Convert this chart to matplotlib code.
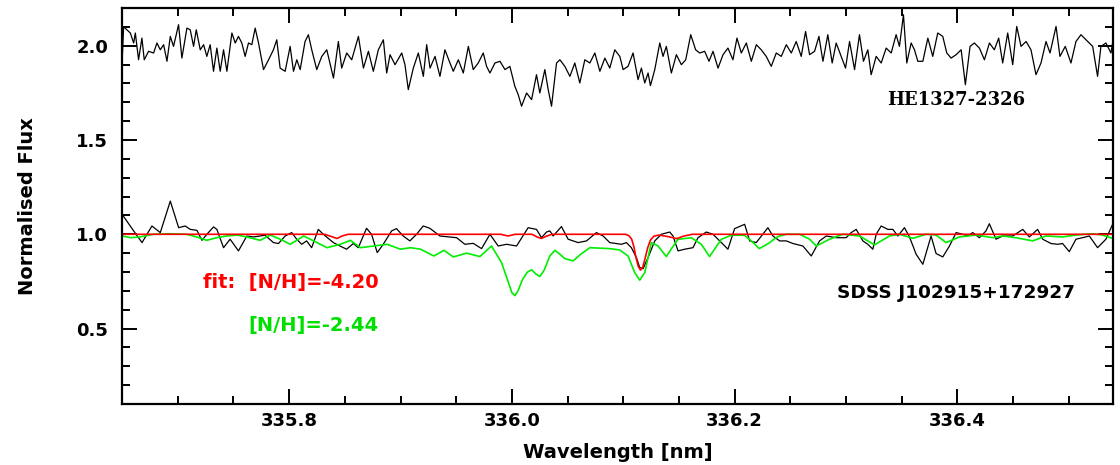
import numpy as np
import matplotlib.pyplot as plt
from matplotlib.ticker import MultipleLocator, FormatStrFormatter

# ---------------------------
# Dati: (lunghezza d'onda [nm], flusso)
# ---------------------------
# HE1327-2326, spettro osservato (spostato di +1)
he1327 = [
    (335.6500, 1.910), (335.6514, 2.100), (335.6574, 2.067), (335.6604, 2.014),
    (335.6619, 2.067), (335.6648, 1.925), (335.6678, 2.040), (335.6699, 1.925),
    (335.6738, 1.970), (335.6783, 1.961), (335.6813, 2.014), (335.6843, 1.978),
    (335.6873, 2.005), (335.6903, 1.917), (335.6933, 2.049), (335.6962, 1.996),
    (335.7007, 2.111), (335.7037, 1.934), (335.7082, 2.093), (335.7112, 2.084),
    (335.7142, 1.996), (335.7166, 2.084), (335.7202, 1.978), (335.7232, 2.005),
    (335.7261, 1.943), (335.7291, 2.005), (335.7321, 1.864), (335.7351, 1.987),
    (335.7381, 1.864), (335.7411, 1.978), (335.7441, 1.864), (335.7486, 2.067),
    (335.7516, 2.014), (335.7545, 2.049), (335.7575, 2.014), (335.7605, 1.943),
    (335.7635, 2.014), (335.7665, 2.005), (335.7695, 2.093), (335.7725, 2.014),
    (335.7770, 1.873), (335.7815, 1.925), (335.7859, 1.978), (335.7889, 2.031),
    (335.7919, 1.881), (335.7964, 1.864), (335.8009, 1.996), (335.8039, 1.864),
    (335.8069, 1.925), (335.8099, 1.873), (335.8143, 2.022), (335.8173, 2.058),
    (335.8203, 1.978), (335.8248, 1.873), (335.8293, 1.943), (335.8338, 1.978),
    (335.8398, 1.828), (335.8442, 2.022), (335.8472, 1.881), (335.8517, 1.961),
    (335.8562, 1.925), (335.8622, 2.049), (335.8667, 1.881), (335.8712, 1.970),
    (335.8756, 1.864), (335.8801, 1.978), (335.8846, 2.031), (335.8876, 1.855),
    (335.8906, 1.952), (335.8951, 1.899), (335.9011, 1.961), (335.9040, 1.899),
    (335.9070, 1.767), (335.9115, 1.881), (335.9160, 1.961), (335.9205, 1.837),
    (335.9235, 2.005), (335.9265, 1.881), (335.9310, 1.943), (335.9354, 1.837),
    (335.9399, 1.978), (335.9444, 1.908), (335.9474, 1.864), (335.9519, 1.925),
    (335.9564, 1.855), (335.9609, 1.996), (335.9653, 1.873), (335.9698, 1.908),
    (335.9743, 1.961), (335.9773, 1.890), (335.9803, 1.855), (335.9848, 1.908),
    (335.9893, 1.917), (335.9938, 1.873), (335.9982, 1.890), (336.0027, 1.784),
    (336.0057, 1.740), (336.0087, 1.679), (336.0132, 1.749), (336.0177, 1.714),
    (336.0221, 1.846), (336.0251, 1.749), (336.0296, 1.873), (336.0326, 1.767),
    (336.0356, 1.679), (336.0401, 1.908), (336.0431, 1.925), (336.0476, 1.890),
    (336.0521, 1.837), (336.0565, 1.908), (336.0610, 1.802), (336.0655, 1.925),
    (336.0700, 1.908), (336.0745, 1.961), (336.0790, 1.864), (336.0835, 1.934),
    (336.0879, 1.881), (336.0924, 1.978), (336.0969, 1.943), (336.0999, 1.873),
    (336.1043, 1.890), (336.1088, 1.961), (336.1133, 1.820), (336.1163, 1.881),
    (336.1193, 1.802), (336.1223, 1.855), (336.1244, 1.788), (336.1283, 1.873),
    (336.1328, 2.014), (336.1357, 1.943), (336.1387, 1.996), (336.1432, 1.855),
    (336.1477, 1.952), (336.1522, 1.899), (336.1561, 1.925), (336.1606, 2.058),
    (336.1650, 1.978), (336.1686, 1.961), (336.1731, 1.970), (336.1770, 1.917),
    (336.1806, 1.970), (336.1851, 1.881), (336.1896, 1.952), (336.1940, 1.987),
    (336.1985, 1.925), (336.2021, 2.040), (336.2060, 1.961), (336.2105, 2.014),
    (336.2150, 1.917), (336.2195, 2.005), (336.2239, 1.978), (336.2284, 1.943),
    (336.2329, 1.890), (336.2374, 1.961), (336.2419, 1.943), (336.2464, 2.005),
    (336.2509, 1.961), (336.2553, 2.022), (336.2598, 1.943), (336.2637, 2.075),
    (336.2673, 1.952), (336.2718, 1.970), (336.2757, 2.049), (336.2793, 1.917),
    (336.2837, 2.058), (336.2876, 1.908), (336.2912, 2.014), (336.2957, 1.943),
    (336.2996, 1.881), (336.3032, 2.022), (336.3077, 1.873), (336.3121, 2.058),
    (336.3157, 1.917), (336.3196, 1.978), (336.3226, 1.846), (336.3271, 1.943),
    (336.3316, 1.908), (336.3361, 1.987), (336.3406, 1.961), (336.3450, 2.058),
    (336.3480, 1.996), (336.3516, 2.164), (336.3546, 1.908), (336.3585, 2.014),
    (336.3615, 1.978), (336.3645, 1.917), (336.3690, 1.917), (336.3735, 2.040),
    (336.3779, 1.943), (336.3824, 2.067), (336.3869, 2.049), (336.3905, 1.961),
    (336.3944, 1.934), (336.3989, 1.952), (336.4034, 1.978), (336.4072, 1.793),
    (336.4114, 1.996), (336.4153, 2.014), (336.4198, 1.987), (336.4243, 1.925),
    (336.4288, 2.014), (336.4332, 1.978), (336.4371, 2.040), (336.4407, 1.908),
    (336.4452, 2.067), (336.4497, 1.899), (336.4533, 2.102), (336.4572, 1.996),
    (336.4617, 2.022), (336.4661, 1.978), (336.4706, 1.846), (336.4751, 1.908),
    (336.4796, 2.022), (336.4832, 1.961), (336.4886, 2.102), (336.4921, 1.943),
    (336.4969, 1.996), (336.5020, 1.908), (336.5065, 2.022), (336.5110, 2.058),
    (336.5155, 2.031), (336.5215, 1.996), (336.5259, 1.837), (336.5289, 1.996),
    (336.5334, 2.014), (336.5379, 1.961), (336.5394, 2.014),
]

# SDSS J102915+172927, spettro osservato
sdss = [
    (335.6500, 1.106), (335.6604, 1.018), (335.6679, 0.956), (335.6768, 1.044),
    (335.6843, 1.009), (335.6933, 1.176), (335.7008, 1.035), (335.7067, 1.044),
    (335.7112, 1.026), (335.7172, 1.021), (335.7217, 0.968), (335.7261, 1.000),
    (335.7321, 1.039), (335.7351, 1.026), (335.7411, 0.929), (335.7470, 0.974),
    (335.7545, 0.912), (335.7620, 0.991), (335.7680, 0.986), (335.7784, 0.995),
    (335.7859, 0.956), (335.7904, 0.951), (335.7964, 0.991), (335.8023, 1.009),
    (335.8068, 0.974), (335.8113, 0.947), (335.8157, 0.965), (335.8202, 0.929),
    (335.8262, 1.026), (335.8307, 1.000), (335.8397, 0.956), (335.8456, 0.938),
    (335.8516, 0.921), (335.8576, 0.951), (335.8621, 0.929), (335.8695, 1.032),
    (335.8740, 1.000), (335.8791, 0.903), (335.8845, 0.947), (335.8920, 1.018),
    (335.8964, 1.030), (335.9024, 0.991), (335.9084, 0.965), (335.9144, 1.000),
    (335.9204, 1.044), (335.9263, 1.032), (335.9354, 0.991), (335.9504, 0.982),
    (335.9578, 0.947), (335.9653, 0.952), (335.9728, 0.924), (335.9803, 1.000),
    (335.9877, 0.938), (335.9952, 0.947), (336.0042, 0.938), (336.0146, 1.035),
    (336.0221, 1.026), (336.0266, 0.982), (336.0311, 1.012), (336.0341, 1.018),
    (336.0371, 0.991), (336.0445, 1.041), (336.0505, 0.974), (336.0595, 0.956),
    (336.0670, 0.965), (336.0759, 1.009), (336.0819, 0.991), (336.0879, 0.956),
    (336.0984, 0.947), (336.1028, 0.956), (336.1073, 0.929), (336.1118, 0.877),
    (336.1148, 0.824), (336.1178, 0.818), (336.1223, 0.877), (336.1283, 0.965),
    (336.1342, 1.000), (336.1417, 1.012), (336.1447, 0.991), (336.1492, 0.912),
    (336.1552, 0.921), (336.1626, 0.929), (336.1671, 0.982), (336.1746, 1.012),
    (336.1806, 1.000), (336.1866, 0.965), (336.1940, 0.921), (336.2000, 1.030),
    (336.2090, 1.053), (336.2135, 0.965), (336.2194, 0.956), (336.2299, 1.035),
    (336.2344, 0.991), (336.2404, 0.965), (336.2464, 0.965), (336.2524, 0.951),
    (336.2613, 0.938), (336.2688, 0.885), (336.2763, 0.965), (336.2823, 0.991),
    (336.2912, 0.982), (336.3002, 0.982), (336.3047, 1.009), (336.3092, 1.026),
    (336.3151, 0.965), (336.3196, 0.947), (336.3241, 0.921), (336.3271, 1.000),
    (336.3316, 1.044), (336.3376, 1.026), (336.3421, 1.026), (336.3465, 0.991),
    (336.3525, 1.035), (336.3570, 0.986), (336.3630, 0.894), (336.3690, 0.841),
    (336.3764, 0.991), (336.3809, 0.898), (336.3869, 0.880), (336.3929, 0.938),
    (336.3989, 1.009), (336.4048, 1.000), (336.4093, 0.991), (336.4138, 1.009),
    (336.4198, 0.982), (336.4257, 1.018), (336.4287, 1.056), (336.4347, 0.974),
    (336.4407, 0.991), (336.4497, 0.991), (336.4587, 1.026), (336.4646, 0.986),
    (336.4721, 1.026), (336.4766, 0.974), (336.4841, 0.951), (336.4901, 0.947),
    (336.4945, 0.951), (336.5005, 0.908), (336.5065, 0.974), (336.5125, 0.982),
    (336.5185, 0.991), (336.5259, 0.929), (336.5334, 0.974), (336.5394, 1.053),
]

# modello di best fit, [N/H] = -4.20
fit_model = [
    (335.6500, 1.000), (335.8320, 1.000), (335.8370, 0.990), (335.8430, 0.978),
    (335.8480, 0.992), (335.8530, 1.000), (335.9900, 1.000), (335.9965, 0.991),
    (336.0030, 1.000), (336.0180, 1.000), (336.0230, 0.985), (336.0265, 0.978),
    (336.0310, 0.990), (336.0360, 1.000), (336.1020, 1.000), (336.1050, 0.993),
    (336.1075, 0.975), (336.1095, 0.935), (336.1115, 0.875), (336.1135, 0.830),
    (336.1155, 0.810), (336.1175, 0.825), (336.1195, 0.870), (336.1220, 0.930),
    (336.1245, 0.970), (336.1275, 0.990), (336.1320, 0.996), (336.1400, 0.988),
    (336.1480, 0.977), (336.1540, 0.990), (336.1620, 1.000), (336.5400, 1.000),
]

# modello con [N/H] = -2.44
high_model = [
    (335.6500, 0.991), (335.6580, 0.982), (335.6660, 0.986), (335.6780, 1.000),
    (335.6930, 1.003), (335.7080, 1.000), (335.7170, 0.986), (335.7260, 0.968),
    (335.7350, 0.982), (335.7440, 0.991), (335.7530, 0.996), (335.7620, 0.986),
    (335.7740, 0.968), (335.7830, 0.996), (335.7920, 0.974), (335.8010, 0.947),
    (335.8130, 0.991), (335.8220, 0.965), (335.8340, 0.929), (335.8460, 0.947),
    (335.8550, 0.968), (335.8640, 0.929), (335.8760, 0.938), (335.8880, 0.947),
    (335.9000, 0.921), (335.9090, 0.929), (335.9180, 0.921), (335.9300, 0.885),
    (335.9390, 0.915), (335.9474, 0.880), (335.9593, 0.900), (335.9713, 0.882),
    (335.9817, 0.938), (335.9907, 0.850), (335.9960, 0.760), (336.0000, 0.690),
    (336.0027, 0.675), (336.0055, 0.700), (336.0095, 0.760), (336.0140, 0.800),
    (336.0177, 0.812), (336.0215, 0.790), (336.0251, 0.776), (336.0290, 0.810),
    (336.0341, 0.885), (336.0386, 0.915), (336.0430, 0.895), (336.0475, 0.871),
    (336.0550, 0.859), (336.0620, 0.895), (336.0700, 0.929), (336.0879, 0.924),
    (336.0968, 0.917), (336.1043, 0.885), (336.1103, 0.797), (336.1148, 0.757),
    (336.1193, 0.797), (336.1252, 0.956), (336.1312, 0.938), (336.1387, 0.882),
    (336.1440, 0.930), (336.1491, 0.973), (336.1611, 0.982), (336.1701, 0.947),
    (336.1775, 0.882), (336.1880, 0.973), (336.1969, 0.995), (336.2089, 0.995),
    (336.2160, 0.960), (336.2220, 0.924), (336.2300, 0.950), (336.2388, 0.988),
    (336.2464, 1.000), (336.2584, 1.000), (336.2673, 0.974), (336.2733, 0.938),
    (336.2853, 0.974), (336.2972, 1.000), (336.3121, 0.991), (336.3256, 0.944),
    (336.3390, 0.991), (336.3480, 1.000), (336.3600, 0.979), (336.3720, 1.000),
    (336.3809, 0.996), (336.3899, 0.956), (336.4019, 0.986), (336.4168, 0.996),
    (336.4318, 0.982), (336.4407, 0.991), (336.4527, 0.982), (336.4676, 0.965),
    (336.4796, 0.991), (336.4946, 0.986), (336.5065, 0.996), (336.5215, 1.003),
    (336.5304, 0.996), (336.5400, 0.977),
]

star_labels = ["HE1327-2326", "SDSS J102915+172927"]
model_labels = ["fit:  [N/H]=-4.20", "[N/H]=-2.44"]

x_ticks = [335.8, 336.0, 336.2, 336.4]
y_ticks = [0.5, 1.0, 1.5, 2.0]

# ---------------------------
# Figura
# ---------------------------
plt.rcParams['font.family'] = ['DejaVu Sans']
plt.rcParams['font.weight'] = 'bold'

fig = plt.figure(figsize=(11.2, 4.65), dpi=100)
ax = fig.add_axes([0.109, 0.131, 0.885, 0.852])

w, f = np.array(he1327).T
ax.plot(w, f, color='black', lw=0.9)
w, f = np.array(sdss).T
ax.plot(w, f, color='black', lw=0.9)
w, f = np.array(high_model).T
ax.plot(w, f, color='#00ee00', lw=1.2)
w, f = np.array(fit_model).T
ax.plot(w, f, color='#ff0000', lw=1.2)

ax.set_xlim(335.65, 336.54)
ax.set_ylim(0.1, 2.2)

ax.set_xticks(x_ticks)
ax.set_yticks(y_ticks)
ax.xaxis.set_minor_locator(MultipleLocator(0.05))
ax.yaxis.set_minor_locator(MultipleLocator(0.1))
ax.xaxis.set_major_formatter(FormatStrFormatter('%.1f'))
ax.yaxis.set_major_formatter(FormatStrFormatter('%.1f'))
ax.tick_params(which='both', direction='in', top=True, right=True,
               labelsize=13, width=1.4)
ax.tick_params(axis='x', pad=6)
ax.tick_params(axis='y', pad=10)
ax.tick_params(which='major', length=11)
ax.tick_params(which='minor', length=6)
for s in ax.spines.values():
    s.set_linewidth(1.6)

ax.set_xlabel("Wavelength [nm]", fontsize=14, fontweight='bold', labelpad=9)
ax.set_ylabel("Normalised Flux", fontsize=14, fontweight='bold', labelpad=28)

ax.text(336.337, 1.71, star_labels[0], fontsize=13, fontweight='bold',
        family='DejaVu Serif', va='center')
ax.text(336.292, 0.688, star_labels[1], fontsize=13.3, fontweight='bold', va='center')
ax.text(335.880, 0.746, model_labels[0], fontsize=14, fontweight='bold',
        color='#ff0000', ha='right', va='center')
ax.text(335.880, 0.519, model_labels[1], fontsize=14, fontweight='bold',
        color='#00e000', ha='right', va='center')

fig.savefig("out.png", dpi=100)
